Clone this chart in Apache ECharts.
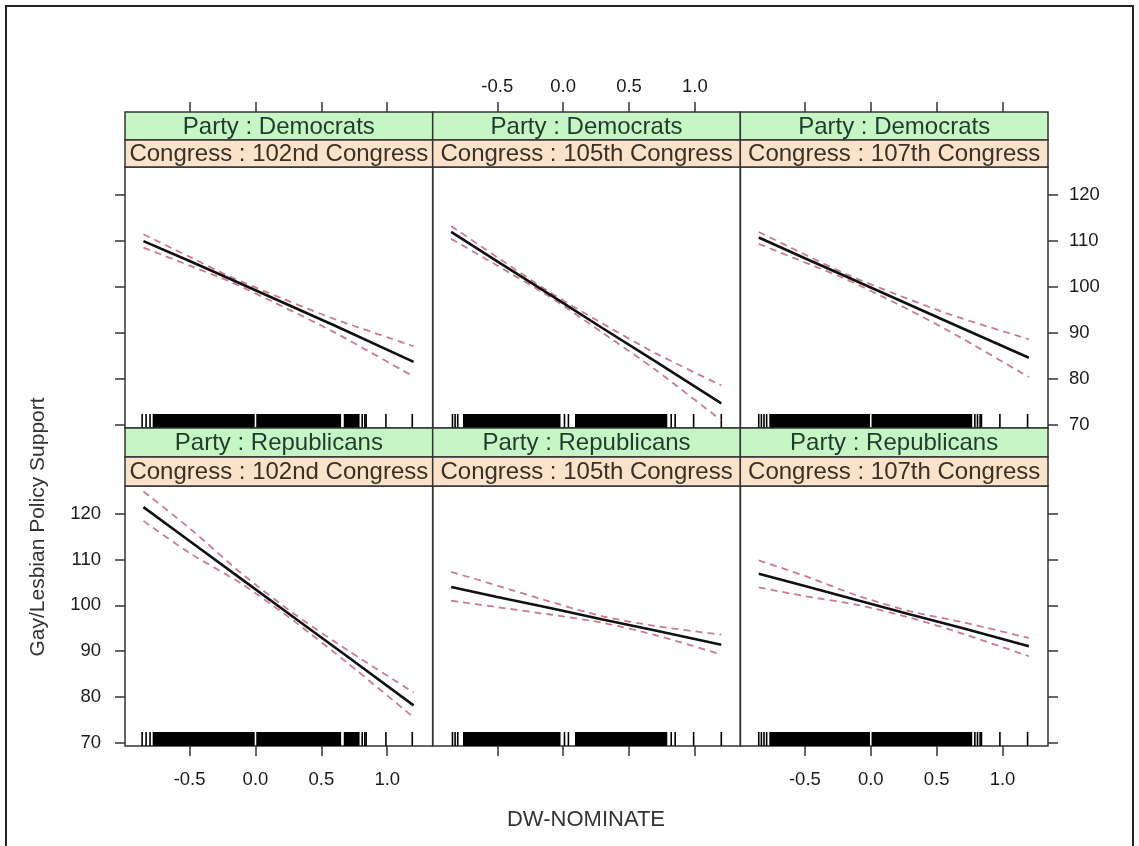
<!DOCTYPE html>
<html><head><meta charset="utf-8">
<script src="https://cdn.jsdelivr.net/npm/echarts@6/dist/echarts.min.js"></script>
<style>html,body{margin:0;padding:0;background:#fff}#c{width:1139px;height:846px}</style>
</head><body><div id="c"></div>
<script>
// ---------------- data ----------------
const congresses = ['102nd Congress', '105th Congress', '107th Congress'];
const parties = ['Democrats', 'Republicans'];
const xTicks = [-0.5, 0.0, 0.5, 1.0];
const yTicks = [70, 80, 90, 100, 110, 120];
const xLabelName = 'DW-NOMINATE';
const yLabelName = 'Gay/Lesbian Policy Support';

// Democrats
const dem102_x   = [-0.85, -0.5, -0.2, 0.2, 0.6, 1.2];
const dem102_fit = [109.9, 105.6, 101.8, 96.7, 91.6, 83.7];
const dem102_hi  = [111.4, 106.5, 102.3, 97.5, 93.0, 87.1];
const dem102_lo  = [108.5, 104.6, 101.2, 95.8, 90.1, 80.5];

const dem105_x   = [-0.85, -0.5, -0.1, 0.3, 0.7, 1.2];
const dem105_fit = [111.9, 105.5, 98.3, 91.0, 83.8, 74.7];
const dem105_hi  = [113.2, 106.4, 98.8, 92.0, 85.6, 78.6];
const dem105_lo  = [110.4, 104.6, 97.8, 90.0, 82.0, 71.0];

const dem107_x   = [-0.85, -0.5, -0.2, 0.2, 0.6, 1.2];
const dem107_fit = [110.7, 106.2, 102.4, 97.3, 92.2, 84.6];
const dem107_hi  = [111.9, 107.0, 102.9, 98.3, 94.0, 88.6];
const dem107_lo  = [109.3, 105.3, 101.8, 96.3, 90.3, 80.4];

// Republicans
const rep102_x   = [-0.85, -0.5, -0.1, 0.3, 0.7, 1.2];
const rep102_fit = [121.4, 114.0, 105.6, 97.2, 88.8, 78.2];
const rep102_hi  = [124.8, 116.8, 106.8, 98.0, 90.2, 81.0];
const rep102_lo  = [118.4, 111.4, 104.6, 96.4, 87.4, 75.6];

const rep105_x   = [-0.85, -0.5, -0.1, 0.3, 0.7, 1.2];
const rep105_fit = [104.0, 101.8, 99.4, 96.9, 94.5, 91.4];
const rep105_hi  = [107.3, 104.3, 100.8, 97.6, 95.5, 93.6];
const rep105_lo  = [101.0, 99.6, 98.0, 96.2, 93.5, 89.3];

const rep107_x   = [-0.85, -0.5, -0.1, 0.3, 0.7, 1.2];
const rep107_fit = [106.9, 104.2, 101.1, 98.0, 95.0, 91.1];
const rep107_hi  = [109.8, 106.4, 102.1, 98.7, 96.3, 92.9];
const rep107_lo  = [103.9, 102.0, 100.1, 97.3, 93.8, 88.9];

// rug of DW-NOMINATE scores (dense stretches and single ticks), per Congress
const rug102_spans = [[-0.78, -0.006], [0.006, 0.65], [0.67, 0.79]];
const rug102_ticks = [-0.86, -0.83, -0.80, 0.81, 0.83, 0.84, 0.99, 1.19];
const rug105_spans = [[-0.76, -0.02], [0.09, 0.79]];
const rug105_ticks = [-0.84, -0.82, -0.80, 0.01, 0.04, 0.82, 0.85, 0.99, 1.20];
const rug107_spans = [[-0.77, -0.006], [0.006, 0.77]];
const rug107_ticks = [-0.85, -0.83, -0.81, -0.79, 0.79, 0.81, 0.83, 0.84, 0.98, 1.19];

// ---------------- assembly ----------------
const panels = [
  [dem102_x, dem102_fit, dem102_hi, dem102_lo, rug102_spans, rug102_ticks],
  [dem105_x, dem105_fit, dem105_hi, dem105_lo, rug105_spans, rug105_ticks],
  [dem107_x, dem107_fit, dem107_hi, dem107_lo, rug107_spans, rug107_ticks],
  [rep102_x, rep102_fit, rep102_hi, rep102_lo, rug102_spans, rug102_ticks],
  [rep105_x, rep105_fit, rep105_hi, rep105_lo, rug105_spans, rug105_ticks],
  [rep107_x, rep107_fit, rep107_hi, rep107_lo, rug107_spans, rug107_ticks]
];

const FONT = '"Liberation Sans", Arial, Helvetica, sans-serif';
const colLeft = [125, 432.7, 740.3];
const colW = 307.7;
const panelTop = [167, 486];
const panelH = [261, 260];
const stripGreen = [[112, 28], [428, 29]];
const stripTan = [[140, 27], [457, 29]];
const X_MIN = -0.99, X_MAX = 1.345, Y_MIN = 69.35, Y_MAX = 126.0;
const axisCol = '#333';
const tickStyle = { color: axisCol, width: 1.5 };
const labelStyle = { color: '#1a1a1a', fontFamily: FONT, fontSize: 18.5 };

const grids = [], xAxes = [], yAxes = [], series = [], graphics = [];

for (let r = 0; r < 2; r++) {
  for (let c = 0; c < 3; c++) {
    const g = r * 3 + c;
    grids.push({
      left: colLeft[c], top: panelTop[r], width: colW, height: panelH[r],
      show: true, borderColor: axisCol, borderWidth: 1.5, containLabel: false
    });
    // bottom x
    xAxes.push({
      type: 'value', gridIndex: g, position: 'bottom', min: X_MIN, max: X_MAX,
      show: r === 1,
      axisLine: { show: false, onZero: false }, splitLine: { show: false },
      axisTick: { show: true, inside: false, length: 10, customValues: xTicks, lineStyle: tickStyle },
      axisLabel: { show: r === 1 && c !== 1, customValues: xTicks, margin: 24,
                   formatter: v => v.toFixed(1), ...labelStyle }
    });
    // top x (sits above the two strips)
    xAxes.push({
      type: 'value', gridIndex: g, position: 'top', offset: panelTop[0] - stripGreen[0][0],
      min: X_MIN, max: X_MAX,
      show: r === 0,
      axisLine: { show: false, onZero: false }, splitLine: { show: false },
      axisTick: { show: true, inside: false, length: 10, customValues: xTicks, lineStyle: tickStyle },
      axisLabel: { show: r === 0 && c === 1, customValues: xTicks, margin: 16,
                   formatter: v => v.toFixed(1), ...labelStyle }
    });
    // left y
    yAxes.push({
      type: 'value', gridIndex: g, position: 'left', min: Y_MIN, max: Y_MAX,
      show: c === 0,
      axisLine: { show: false, onZero: false }, splitLine: { show: false },
      axisTick: { show: true, inside: false, length: 10, customValues: yTicks, lineStyle: tickStyle },
      axisLabel: { show: c === 0 && r === 1, customValues: yTicks, margin: 24, ...labelStyle }
    });
    // right y
    yAxes.push({
      type: 'value', gridIndex: g, position: 'right', min: Y_MIN, max: Y_MAX,
      show: c === 2,
      axisLine: { show: false, onZero: false }, splitLine: { show: false },
      axisTick: { show: true, inside: false, length: 10, customValues: yTicks, lineStyle: tickStyle },
      axisLabel: { show: c === 2 && r === 0, customValues: yTicks, margin: 21, ...labelStyle }
    });

    const [xs, fit, hi, lo, spans, ticks] = panels[g];
    const pair = arr => xs.map((x, i) => [x, arr[i]]);
    const band = arr => ({
      type: 'line', xAxisIndex: 2 * g, yAxisIndex: 2 * g, data: pair(arr),
      symbol: 'none', smooth: 0.25, silent: true, z: 3,
      lineStyle: { color: '#c87c8c', width: 1.8, type: [7, 5] }
    });
    series.push(band(hi), band(lo));
    series.push({
      type: 'line', xAxisIndex: 2 * g, yAxisIndex: 2 * g, data: pair(fit),
      symbol: 'none', smooth: false, silent: true, z: 4,
      lineStyle: { color: '#111', width: 2.6 }
    });
    const rugData = spans.map(s => [s[0], s[1], 0]).concat(ticks.map(t => [t, t, 1]));
    series.push({
      type: 'custom', xAxisIndex: 2 * g, yAxisIndex: 2 * g, data: rugData,
      encode: { x: [0, 1] }, silent: true, clip: false, z: 2,
      renderItem: (params, api) => {
        const x1 = api.coord([api.value(0), 100])[0];
        const x2 = api.coord([api.value(1), 100])[0];
        const cs = params.coordSys;
        const yb = cs.y + cs.height;
        if (api.value(2) === 0) {
          return { type: 'rect', shape: { x: x1, y: yb - 14, width: x2 - x1, height: 14 },
                   style: { fill: '#000' } };
        }
        return { type: 'line', shape: { x1: x1, y1: yb - 14, x2: x1, y2: yb },
                 style: { stroke: '#000', lineWidth: 1.6 } };
      }
    });

    // strips
    graphics.push({
      type: 'rect', shape: { x: colLeft[c], y: stripGreen[r][0], width: colW, height: stripGreen[r][1] },
      style: { fill: '#c6f5c6', stroke: axisCol, lineWidth: 1.5 }, z: 10
    });
    graphics.push({
      type: 'text', x: colLeft[c] + colW / 2, y: stripGreen[r][0] + stripGreen[r][1] / 2 + 1, z: 11,
      style: { text: 'Party : ' + parties[r], font: '24px ' + FONT, fill: '#1f3d2a',
               textAlign: 'center', textVerticalAlign: 'middle' }
    });
    graphics.push({
      type: 'rect', shape: { x: colLeft[c], y: stripTan[r][0], width: colW, height: stripTan[r][1] },
      style: { fill: '#fbe3cb', stroke: axisCol, lineWidth: 1.5 }, z: 10
    });
    graphics.push({
      type: 'text', x: colLeft[c] + colW / 2, y: stripTan[r][0] + stripTan[r][1] / 2 + 1, z: 11,
      style: { text: 'Congress : ' + congresses[c], font: '24px ' + FONT, fill: '#3a3024',
               textAlign: 'center', textVerticalAlign: 'middle' }
    });
  }
}

// outer frame and axis titles
graphics.push({
  type: 'rect', shape: { x: 6, y: 6, width: 1127, height: 870 },
  style: { fill: 'none', stroke: '#222', lineWidth: 2 }, z: 1
});
graphics.push({
  type: 'text', x: 586, y: 820, z: 11,
  style: { text: xLabelName, font: '22px ' + FONT, fill: '#333', textAlign: 'center', textVerticalAlign: 'middle' }
});
graphics.push({
  type: 'text', x: 38, y: 527, rotation: Math.PI / 2, z: 11,
  style: { text: yLabelName, font: '21px ' + FONT, fill: '#333', textAlign: 'center', textVerticalAlign: 'middle' }
});

const chart = echarts.init(document.getElementById('c'), null, { renderer: 'canvas' });
chart.setOption({
  animation: false,
  backgroundColor: '#fff',
  grid: grids, xAxis: xAxes, yAxis: yAxes, series: series, graphic: graphics
});
</script></body></html>
